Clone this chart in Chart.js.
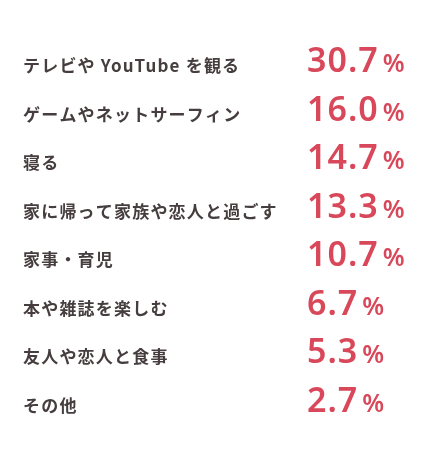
<!DOCTYPE html>
<html lang="ja">
<head>
<meta charset="utf-8">
<title>休日の過ごし方</title>
<script src="https://cdn.jsdelivr.net/npm/chart.js@4/dist/chart.umd.min.js"></script>
<style>
  html, body { margin: 0; padding: 0; background: #fff; }
  #wrap { width: 430px; height: 461px; position: relative; }
</style>
</head>
<body>
<div id="wrap"><canvas id="chart"></canvas></div>
<script>
const categories = [
  'テレビや YouTube を観る',
  'ゲームやネットサーフィン',
  '寝る',
  '家に帰って家族や恋人と過ごす',
  '家事・育児',
  '本や雑誌を楽しむ',
  '友人や恋人と食事',
  'その他'
]
const percents = [30.7, 16.0, 14.7, 13.3, 10.7, 6.7, 5.3, 2.7]

const labelColor = '#463e3e'
const valueColor = '#d9485a'

// category names on the left and percentages on the right of each row
const rowTextPlugin = {
  id: 'rowText',
  afterDraw(chart) {
    const ctx = chart.ctx
    const yScale = chart.scales.y
    ctx.save()
    ctx.textAlign = 'left'
    ctx.textBaseline = 'alphabetic'
    yScale.ticks.forEach((tick, i) => {
      const y = yScale.getPixelForTick(i) + 8
      // category
      ctx.fillStyle = labelColor
      ctx.letterSpacing = '1.2px'
      ctx.font = 'bold 17px "Noto Sans CJK JP", sans-serif'
      ctx.fillText(yScale.getLabelForValue(tick.value), 23, y)
      // value
      const text = percents[i].toFixed(1)
      ctx.fillStyle = valueColor
      ctx.letterSpacing = '1px'
      ctx.font = '600 34px "Noto Sans", sans-serif'
      ctx.fillText(text, 307, y)
      const w = ctx.measureText(text).width
      ctx.letterSpacing = '0px'
      ctx.font = '600 25px "Noto Sans", sans-serif'
      ctx.fillText('%', 307 + w + 4, y)
    })
    ctx.restore()
  }
}

new Chart(document.getElementById('chart'), {
  type: 'bar',
  data: {
    labels: categories,
    datasets: [{
      data: percents,
      backgroundColor: 'rgba(0,0,0,0)',
      borderWidth: 0
    }]
  },
  options: {
    indexAxis: 'y',
    responsive: true,
    maintainAspectRatio: false,
    animation: false,
    layout: {
      padding: { left: 0, right: 0, top: 40, bottom: 33 }
    },
    plugins: {
      legend: { display: false },
      tooltip: { enabled: false }
    },
    scales: {
      x: { display: false, min: 0, max: 40 },
      y: {
        grid: { display: false, drawTicks: false },
        border: { display: false },
        ticks: { display: false }
      }
    }
  },
  plugins: [rowTextPlugin]
})
</script>
</body>
</html>
